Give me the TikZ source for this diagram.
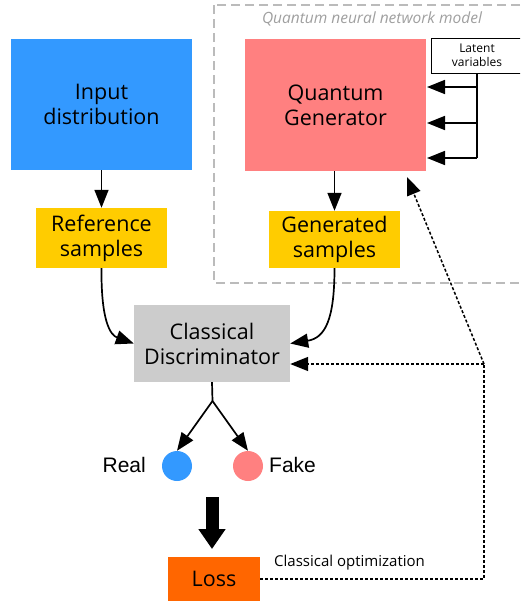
\documentclass[tikz,border=0pt]{standalone}
\usepackage{fontspec}
\setmainfont{Open Sans}
\newfontfamily\arialfont{Liberation Sans}
\usetikzlibrary{arrows.meta}
\definecolor{cblue}{HTML}{3399FF}
\definecolor{cpink}{HTML}{FF8080}
\definecolor{cyellow}{HTML}{FFCC00}
\definecolor{cgrey}{HTML}{CCCCCC}
\definecolor{corange}{HTML}{FF6600}
\definecolor{cdash}{HTML}{BBBBBB}
\tikzset{
  box/.style={inner sep=0pt, align=center, font=\fontsize{21.5}{25}\selectfont},
  arr/.style={-{Triangle[length=18pt,width=14pt]}, line width=1.7pt},
  darr/.style={-{Triangle[length=18pt,width=14pt]}, line width=1.5pt, dash pattern=on 3pt off 2pt},
  dline/.style={line width=1.5pt, dash pattern=on 3pt off 2pt},
}
\begin{document}
\begin{tikzpicture}[x=1pt,y=-1pt]
\useasboundingbox (0,0) rectangle (520,603);
\clip (0,0) rectangle (520,603);
% dashed model box
\draw[cdash, line width=1.5pt, dash pattern=on 9pt off 5pt] (214,5) rectangle (530,283);
\node[font=\fontsize{15.5}{18}\selectfont\itshape, text=cdash!85!black] (title) at (372,19) {Quantum neural network model};
% boxes
\node[box, fill=cblue, minimum width=181pt, minimum height=131pt] (inp) at (101.5,104.5) {Input\\distribution};
\node[box, fill=cyellow, minimum width=131pt, minimum height=60pt] (ref) at (101.5,238) {Reference\\samples};
\node[box, fill=cpink, minimum width=181pt, minimum height=132pt] (qg) at (335.5,105) {Quantum\\Generator};
\node[box, fill=cyellow, minimum width=131pt, minimum height=57pt] (gen) at (334.5,239.5) {Generated\\samples};
\node[box, fill=cgrey, minimum width=156pt, minimum height=77pt] (disc) at (212,343.5) {Classical\\Discriminator};
\node[box, draw=black, line width=1pt, minimum width=92pt, minimum height=35pt, font=\fontsize{12}{14}\selectfont] (lat) at (477,55.5) {Latent\\variables};
\node[box, fill=corange, minimum width=92pt, minimum height=44pt] (loss) at (214,579) {Loss};
% circles
\node[circle, fill=cblue, minimum size=30pt, inner sep=0pt] (real) at (177,466) {};
\node[circle, fill=cpink, minimum size=30pt, inner sep=0pt] (fake) at (248,466) {};
\node[font=\arialfont\fontsize{21}{25}\selectfont, anchor=east, inner sep=0pt] (reall) at (146,465) {Real};
\node[font=\arialfont\fontsize{21}{25}\selectfont, anchor=west, inner sep=0pt] (fakel) at (269,465) {Fake};
\node[font=\fontsize{15}{18}\selectfont, anchor=west, inner sep=0pt] (opt) at (274,563) {Classical optimization};
% coordinates
\coordinate (split) at (212.5,401);
\coordinate (jn) at (484,364);
\coordinate (jb) at (484,579);
\coordinate (lv) at (477,73);
% arrows
\draw[arr] (inp.south) -- (ref.north);
\draw[arr] (qg.south -| gen.north) -- (gen.north);
\draw[arr] (ref.south) .. controls (101,320) and (110,335) .. (disc.west);
\draw[arr] (gen.south) .. controls (334.5,320) and (325,338) .. (disc.east);
\draw[line width=1.7pt] (disc.south) -- (split);
\draw[arr] (split) -- (real.north);
\draw[arr] (split) -- (fake.north);
% latent
\draw[line width=1.7pt] (lv) -- (477,158);
\draw[arr] (477,87) -- (427,87);
\draw[arr] (477,123) -- (427,123);
\draw[arr] (477,158) -- (427,158);
% thick arrow
\draw[line width=13pt, -{Triangle[length=20pt,width=26pt]}] (212,497) -- (212,549);
% dashed feedback
\draw[darr] (jn) -- (disc.east |- jn);
\draw[darr] (jn) -- (407,177);
\draw[dline] (loss.east |- jb) -- (jb) -- (jn);
\end{tikzpicture}
\end{document}
